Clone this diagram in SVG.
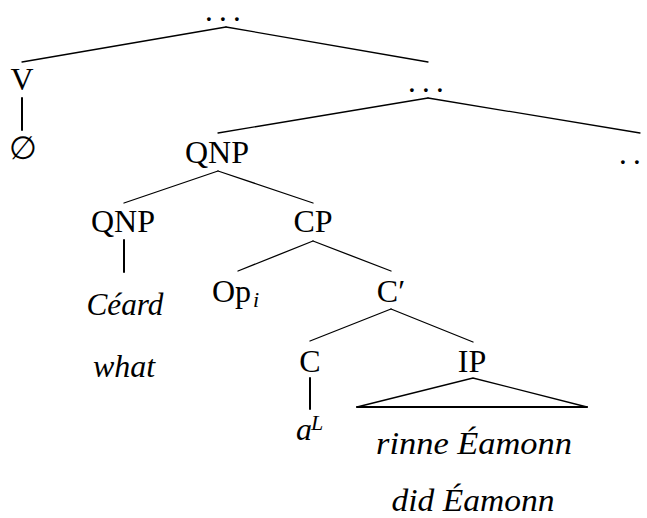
<svg xmlns="http://www.w3.org/2000/svg" width="647" height="518" viewBox="0 0 647 518">
<style>
text{font-size:32px;fill:#000}
.m{text-anchor:middle}
.it{font-style:italic}
.sub{font-size:22px;font-style:italic}
.dots{font-size:23px;font-weight:bold;letter-spacing:8.2px}
.e line,.e polyline{stroke:#000;stroke-width:1.3;fill:none;stroke-linecap:round}
.e .v{stroke-width:2}
</style>
<rect width="647" height="518" fill="#fff"/>
<g class="e" id="connectors">
<line x1="226" y1="27" x2="22" y2="62"/>
<line x1="226" y1="27" x2="428" y2="62"/>
<line class="v" x1="22" y1="98" x2="22" y2="130"/>
<line x1="428" y1="98" x2="218" y2="133"/>
<line x1="428" y1="98" x2="640" y2="133"/>
<line x1="218" y1="171" x2="124" y2="203"/>
<line x1="218" y1="171" x2="313" y2="203"/>
<line class="v" x1="124" y1="240" x2="124" y2="272"/>
<line x1="313" y1="241" x2="238" y2="271"/>
<line x1="313" y1="241" x2="391" y2="271"/>
<line x1="391" y1="309" x2="310" y2="341"/>
<line x1="391" y1="309" x2="473" y2="342"/>
<line class="v" x1="310" y1="378" x2="310" y2="409"/>
<polyline points="357,407 473,378 587,407"/>
<line class="v" x1="357" y1="407" x2="587" y2="407"/>
</g>
<g font-family="'Liberation Serif', 'Times New Roman', 'DejaVu Serif', serif">
<g id="root"><text class="dots" x="206" y="21">...</text></g>
<g id="V"><text class="m" x="22" y="90">V</text></g>
<g id="empty"><text class="m" x="23" y="159">∅</text></g>
<g id="dots2"><text class="dots" x="409" y="92">...</text></g>
<g id="dots3"><text class="dots" x="620" y="164">..</text></g>
<g id="QNP"><text class="m" x="217" y="163">QNP</text></g>
<g id="QNP2"><text class="m" x="123" y="232">QNP</text></g>
<g id="CP"><text class="m" x="313" y="232">CP</text></g>
<g id="Ceard"><text class="m it" x="125" y="315" textLength="77" lengthAdjust="spacingAndGlyphs">Céard</text></g>
<g id="what"><text class="m it" x="124" y="377">what</text></g>
<g id="Op"><text x="212" y="302">Op</text><text class="sub" x="253" y="307">i</text></g>
<g id="Cbar"><text class="m" x="391" y="302">C′</text></g>
<g id="C"><text class="m" x="310" y="372">C</text></g>
<g id="IP"><text class="m" x="472" y="372">IP</text></g>
<g id="aL"><text class="it" x="296" y="440">a</text><text class="sub" x="311" y="430">L</text></g>
<g id="rinne"><text class="m it" x="474" y="454" textLength="196" lengthAdjust="spacingAndGlyphs">rinne Éamonn</text></g>
<g id="did"><text class="m it" x="473" y="511" textLength="163" lengthAdjust="spacingAndGlyphs">did Éamonn</text></g>
</g>
</svg>
